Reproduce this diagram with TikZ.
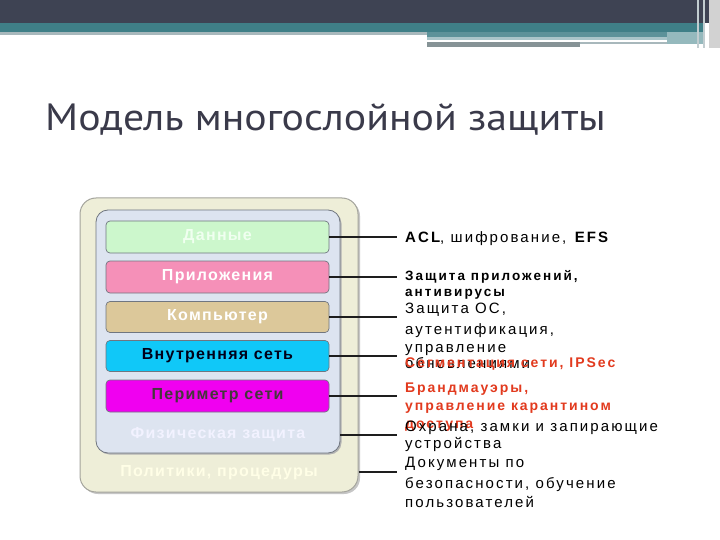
\documentclass[tikz,border=0pt]{standalone}
\usepackage{fontspec}
\usepackage{graphicx}
\setmainfont{Liberation Sans}
\newfontfamily\titlefont{PT Sans}
\newfontfamily\lsA[LetterSpace=8]{Liberation Sans}
\newfontfamily\lsB[LetterSpace=14]{Liberation Sans}
\newfontfamily\lsBB[LetterSpace=15]{Liberation Sans}
\newfontfamily\lsC[LetterSpace=14]{Liberation Sans}
\definecolor{bandDark}{HTML}{3E4353}
\definecolor{bandTeal}{HTML}{3F7F87}
\definecolor{bandGray}{HTML}{A8B8BC}
\definecolor{titleCol}{HTML}{3A3A4A}
\definecolor{outerFill}{HTML}{EEEED8}
\definecolor{outerLine}{HTML}{A4A49C}
\definecolor{innerFill}{HTML}{DDE4F0}
\definecolor{innerLine}{HTML}{707680}
\definecolor{cGreen}{HTML}{CCF7CC}
\definecolor{cPink}{HTML}{F590B8}
\definecolor{cTan}{HTML}{DCC89A}
\definecolor{cCyan}{HTML}{10C8F8}
\definecolor{cMag}{HTML}{F000F0}
\definecolor{redTxt}{HTML}{E23A1E}
\definecolor{lineCol}{HTML}{1E1E1E}
\begin{document}
\begin{tikzpicture}[x=1pt,y=-1pt,
  bar/.style={draw=innerLine, line width=0.7pt, rounded corners=4pt, minimum width=223pt, inner sep=0pt, font=\lsA\fontsize{16}{18}\selectfont\bfseries},
  conn/.style={draw=lineCol, line width=2.2pt},
  rtxt/.style={anchor=base west, inner sep=0pt, font=\lsC\fontsize{15}{17}\selectfont},
  rbold/.style={anchor=base west, inner sep=0pt, font=\lsB\fontsize{14}{16}\selectfont\bfseries},
  lbl/.style={inner sep=0pt, font=\lsA\fontsize{16}{18}\selectfont\bfseries}]
\useasboundingbox (0,0) rectangle (720,540);
\fill[white] (0,0) rectangle (720,540);
% top banner
\fill[bandDark] (0,0) rectangle (720,23);
\fill[bandTeal] (0,23) rectangle (705,32);
\fill[bandGray] (0,32) rectangle (427,35);
\fill[bandTeal!85!white] (427,32) rectangle (705,37);
\fill[bandTeal!45!white] (427,37) rectangle (667,40);
\fill[bandGray!80!black] (427,42) rectangle (580,47);
\fill[bandGray] (580,42) rectangle (667,44);
\fill[bandTeal!55!white] (667,32) rectangle (705,44);
\fill[bandGray!70!white] (697,0) rectangle (699,48);
\fill[bandGray!70!white] (703,0) rectangle (705,48);
\fill[gray!35] (709,0) rectangle (720,48);
% title
\node[anchor=base west, inner sep=0pt, text=titleCol, font=\titlefont\fontsize{38}{40}\selectfont] (title) at (45,131) {\scalebox{1.1}[1]{Модель многослойной защиты}};
% outer and inner frames
\fill[gray!45, rounded corners=16pt] (82,200) rectangle (360,494);
\node[draw=outerLine, fill=outerFill, line width=1pt, rounded corners=16pt, minimum width=278pt, minimum height=294pt, inner sep=0pt] (outer) at (219,345) {};
\fill[gray!60, rounded corners=12pt] (97.5,211.5) rectangle (341.5,454.5);
\node[draw=innerLine, fill=innerFill, line width=0.8pt, rounded corners=12pt, minimum width=244pt, minimum height=243pt, inner sep=0pt] (inner) at (218,331.5) {};
% bars
\node[bar, fill=cGreen, minimum height=32pt, text=green!6!white] (d1) at (217.5,237) {Данные};
\node[bar, fill=cPink, minimum height=32pt, text=white] (d2) at (217.5,277) {Приложения};
\node[bar, fill=cTan, minimum height=31pt, text=white] (d3) at (217.5,317) {Компьютер};
\node[bar, fill=cCyan, minimum height=31pt, text=black!90!blue] (d4) at (217.5,356) {Внутренняя сеть};
\node[bar, fill=cMag, minimum height=32pt, text=black!85!magenta] (d5) at (217.5,396) {Периметр сети};
\node[lbl, text=white!95!blue] (phys) at (218,435) {Физическая защита};
\node[lbl, text=white!90!yellow] (pol) at (219,473) {Политики, процедуры};
% connector ends
\coordinate (e1) at (397,237);
\coordinate (e2) at (397,277);
\coordinate (e3) at (397,317);
\coordinate (e4) at (397,356);
\coordinate (e5) at (397,396);
\coordinate (e6) at (397,435);
\coordinate (e7) at (397,472);
\draw[conn] (d1.east) -- (e1);
\draw[conn] (d2.east) -- (e2);
\draw[conn] (d3.east) -- (e3);
\draw[conn] (d4.east) -- (e4);
\draw[conn] (d5.east) -- (e5);
\draw[conn] (phys.east -| inner.east) -- (e6);
\draw[conn] (e7 -| outer.east) -- (e7);
% right texts
\node[rbold, font=\lsB\fontsize{15}{17}\selectfont] (t1) at (405,243) {\textbf{ACL}, шифрование, \textbf{EFS}};
\node[rbold, font=\lsBB\fontsize{13.5}{15}\selectfont\bfseries] (t2a) at (405,280) {Защита приложений,};
\node[rbold, font=\lsBB\fontsize{13.5}{15}\selectfont\bfseries] (t2b) at (405,296) {антивирусы};
\node[rtxt] (t3a) at (405,313) {Защита ОС,};
\node[rtxt] (t3b) at (405,334) {аутентификация,};
\node[rtxt] (t3c) at (405,352) {управление};
\node[rtxt] (t3d) at (405,368) {обновлениями};
\node[rbold, text=redTxt] (t4) at (405,367) {Сегментация сети, IPSec};
\node[rbold, text=redTxt] (t5a) at (405,392) {Брандмауэры,};
\node[rbold, text=redTxt] (t5b) at (405,410) {управление карантином};
\node[rbold, text=redTxt] (t5c) at (405,428) {доступа};
\node[rtxt] (t6a) at (405,431) {Охрана, замки и запирающие};
\node[rtxt] (t6b) at (405,448) {устройства};
\node[rtxt] (t7a) at (405,467) {Документы по};
\node[rtxt] (t7b) at (405,488) {безопасности, обучение};
\node[rtxt] (t7c) at (405,507) {пользователей};
\end{tikzpicture}
\end{document}
